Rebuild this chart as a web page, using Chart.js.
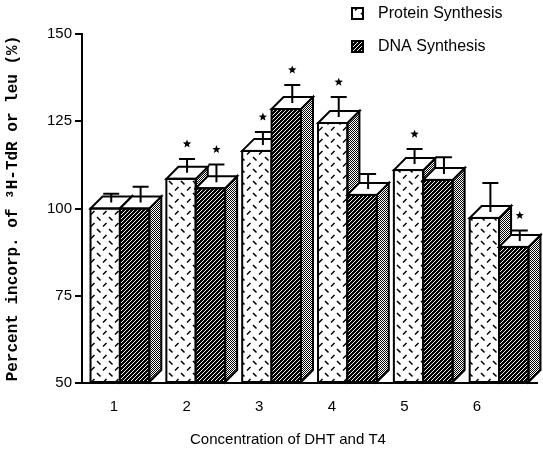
<!DOCTYPE html>
<html>
<head>
<meta charset="utf-8">
<script src="https://cdn.jsdelivr.net/npm/chart.js@4/dist/chart.umd.min.js"></script>
<style>
  html, body { margin: 0; padding: 0; background: #fff; }
  #c { display: block; }
</style>
</head>
<body>
<canvas id="c" width="543" height="453"></canvas>
<script>
// Incorporation (% of control) for each concentration step
const categories = ['1', '2', '3', '4', '5', '6'];
const proteinValues = [100, 108.5, 116.5, 124.5, 111, 97.3];
const proteinErrors = [2.5, 4, 3.7, 5.7, 4.3, 8.3];
const proteinStars = [false, true, true, true, true, false];
const dnaValues = [100, 105.8, 128.5, 103.9, 108.2, 89];
const dnaErrors = [4.5, 5.1, 5.2, 4.3, 4.8, 3];
const dnaStars = [false, true, true, false, false, true];
const yTicks = [50, 75, 100, 125, 150];
const xTitle = 'Concentration of DHT and T4';

const SANS = '"Liberation Sans", Arial, Helvetica, sans-serif';
const DEPTH = 12;

// ---- fill patterns ----
function makePattern(w, h, draw) {
  const cv = document.createElement('canvas');
  cv.width = w; cv.height = h;
  const g = cv.getContext('2d');
  draw(g, w, h);
  return g.createPattern(cv, 'repeat');
}

// white field with small alternating dashes
const proteinFill = makePattern(12, 12, (g, w, h) => {
  g.fillStyle = '#fff'; g.fillRect(0, 0, w, h);
  g.strokeStyle = '#000'; g.lineWidth = 1.5; g.lineCap = 'butt';
  g.beginPath();
  g.moveTo(1, 1); g.lineTo(4.5, 4.5);
  g.moveTo(7, 10.5); g.lineTo(10.5, 7);
  g.stroke();
});
// dense black hatch with thin white diagonals
const dnaFill = makePattern(4, 4, (g, w, h) => {
  g.fillStyle = '#000'; g.fillRect(0, 0, w, h);
  g.strokeStyle = '#fff'; g.lineWidth = 0.95;
  g.beginPath();
  g.moveTo(0, h); g.lineTo(w, 0);
  g.moveTo(-1, 1); g.lineTo(1, -1);
  g.moveTo(w - 1, h + 1); g.lineTo(w + 1, h - 1);
  g.stroke();
});
// stippled shading for the side faces
const sideFill = makePattern(2, 2, (g) => {
  g.fillStyle = '#fff'; g.fillRect(0, 0, 2, 2);
  g.fillStyle = '#000'; g.fillRect(0, 0, 1, 1); g.fillRect(1, 1, 1, 1);
});

const seriesExtras = [
  { errors: proteinErrors, stars: proteinStars },
  { errors: dnaErrors, stars: dnaStars }
];

function drawStar(ctx, cx, cy, ro, ri) {
  ctx.beginPath();
  for (let k = 0; k < 10; k++) {
    const r = k % 2 === 0 ? ro : ri;
    const a = -Math.PI / 2 + k * Math.PI / 5;
    const px = cx + r * Math.cos(a), py = cy + r * Math.sin(a);
    if (k === 0) ctx.moveTo(px, py); else ctx.lineTo(px, py);
  }
  ctx.closePath();
  ctx.fill();
}

// Extrude every bar (white top face, stippled side face, black outline).
// Series are painted left to right so the right-hand bar of a pair hides
// the side face of its neighbour.
const bars3d = {
  id: 'bars3d',
  afterDatasetsDraw(chart) {
    const ctx = chart.ctx;
    const yScale = chart.scales.y;
    const d = DEPTH;
    ctx.save();
    chart.data.datasets.forEach((ds, di) => {
      const meta = chart.getDatasetMeta(di);
      meta.data.forEach(el => {
        el.draw(ctx);
        const { x, y, base, width } = el.getProps(['x', 'y', 'base', 'width'], true);
        const l = x - width / 2, r = x + width / 2;
        ctx.lineWidth = 2;
        ctx.strokeStyle = '#000';
        ctx.lineJoin = 'miter';
        ctx.beginPath();
        ctx.moveTo(r, y); ctx.lineTo(r + d, y - d); ctx.lineTo(r + d, base - d); ctx.lineTo(r, base);
        ctx.closePath();
        ctx.fillStyle = sideFill; ctx.fill(); ctx.stroke();
        ctx.beginPath();
        ctx.moveTo(l, y); ctx.lineTo(l + d, y - d); ctx.lineTo(r + d, y - d); ctx.lineTo(r, y);
        ctx.closePath();
        ctx.fillStyle = '#fff'; ctx.fill(); ctx.stroke();
        ctx.strokeRect(l, y, width, base - y);
      });
    });
    // error bars and significance stars
    ctx.lineWidth = 2;
    ctx.strokeStyle = '#000';
    ctx.fillStyle = '#000';
    chart.data.datasets.forEach((ds, di) => {
      const meta = chart.getDatasetMeta(di);
      const extra = seriesExtras[di];
      meta.data.forEach((el, i) => {
        const { x, y } = el.getProps(['x', 'y'], true);
        const cx = x + d / 2;
        const y0 = y - d / 2;
        const y1 = yScale.getPixelForValue(ds.data[i] + extra.errors[i]) - d / 2;
        ctx.beginPath();
        ctx.moveTo(cx, y0); ctx.lineTo(cx, y1);
        ctx.moveTo(cx - 8, y1); ctx.lineTo(cx + 8, y1);
        ctx.stroke();
        if (extra.stars[i]) drawStar(ctx, cx, y1 - 15, 4.4, 1.9);
      });
    });
    ctx.restore();
  }
};

// Legend in the upper right corner and the caption under the category labels
const annotations = {
  id: 'annotations',
  afterDraw(chart) {
    const ctx = chart.ctx;
    const rows = [8, 41];
    ctx.save();
    chart.data.datasets.forEach((ds, i) => {
      const top = rows[i];
      ctx.fillStyle = ds.backgroundColor;
      ctx.fillRect(352, top, 11, 11);
      ctx.lineWidth = 2;
      ctx.strokeStyle = '#000';
      ctx.strokeRect(352, top, 11, 11);
      ctx.fillStyle = '#000';
      ctx.font = '16px ' + SANS;
      ctx.textBaseline = 'middle';
      ctx.textAlign = 'left';
      ctx.fillText(ds.label, 378, top + 6);
    });
    ctx.font = '15px ' + SANS;
    ctx.textAlign = 'center';
    ctx.textBaseline = 'middle';
    ctx.fillText(xTitle, 288, 440);
    ctx.restore();
  }
};

new Chart(document.getElementById('c'), {
  type: 'bar',
  data: {
    labels: categories,
    datasets: [
      {
        label: 'Protein Synthesis',
        data: proteinValues,
        base: yTicks[0],
        backgroundColor: proteinFill,
        borderWidth: 0,
        xAxisID: 'x',
        yAxisID: 'y'
      },
      {
        label: 'DNA Synthesis',
        data: dnaValues,
        base: yTicks[0],
        backgroundColor: dnaFill,
        borderWidth: 0,
        xAxisID: 'x',
        yAxisID: 'y'
      }
    ]
  },
  options: {
    responsive: false,
    animation: false,
    devicePixelRatio: 1,
    categoryPercentage: 0.775,
    barPercentage: 1,
    layout: { padding: { left: 0, right: 6, top: 34, bottom: 0 } },
    plugins: {
      legend: { display: false },
      tooltip: { enabled: false }
    },
    scales: {
      x: {
        type: 'category',
        display: false
      },
      xl: {
        type: 'linear',
        position: 'bottom',
        offset: false,
        min: 0.5592,
        max: 6.8264,
        grid: { display: false, drawTicks: false, offset: false },
        border: { display: true, color: '#000', width: 2 },
        ticks: {
          stepSize: 1,
          includeBounds: false,
          autoSkip: false,
          maxRotation: 0,
          padding: 15,
          color: '#000',
          font: { family: SANS, size: 15 },
          callback: v => (Number.isInteger(v) && categories[v - 1]) ? categories[v - 1] : ''
        },
        afterFit: s => { s.height = 70; }
      },
      y: {
        type: 'linear',
        position: 'left',
        min: yTicks[0],
        max: yTicks[yTicks.length - 1],
        afterBuildTicks: s => { s.ticks = yTicks.map(v => ({ value: v })); },
        grid: {
          drawOnChartArea: false,
          drawTicks: true,
          tickLength: 7,
          color: '#000',
          lineWidth: 2
        },
        border: { display: true, color: '#000', width: 2 },
        ticks: {
          padding: 3,
          color: '#000',
          font: { family: SANS, size: 15 }
        },
        title: {
          display: true,
          text: 'Percent incorp. of \u00B3H-TdR or leu (%)',
          color: '#000',
          font: { family: '"Liberation Mono", "Courier New", monospace', size: 16, weight: 'bold' },
          padding: { top: 3, bottom: 0 }
        },
        afterFit: s => { s.width = 82; }
      }
    }
  },
  plugins: [bars3d, annotations]
});
</script>
</body>
</html>
